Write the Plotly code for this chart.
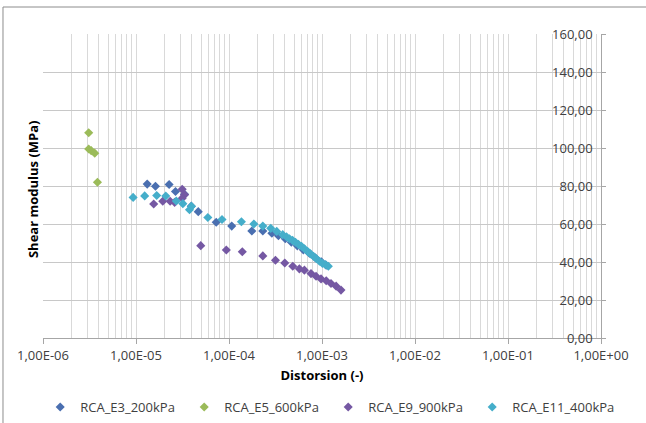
import plotly.graph_objects as go

# ---- data ----
series_names = ["RCA_E3_200kPa", "RCA_E5_600kPa", "RCA_E9_900kPa", "RCA_E11_400kPa"]

e3_x = [1.32e-5, 1.62e-5, 2.27e-5, 2.66e-5, 3.33e-5, 3.93e-5, 4.67e-5, 7.29e-5, 1.07e-4,
        1.76e-4, 2.31e-4, 2.89e-4, 3.40e-4, 4.03e-4, 4.68e-4, 5.43e-4, 6.30e-4, 7.31e-4,
        8.47e-4, 9.84e-4, 1.11e-3]
e3_y = [81.0, 79.9, 80.8, 77.1, 75.6, 69.4, 66.5, 60.9, 58.9,
        56.3, 56.3, 55.1, 53.8, 52.2, 50.4, 48.5, 46.4, 44.6,
        42.2, 40.1, 38.3]

e5_x = [3.1e-6, 3.1e-6, 3.3e-6, 3.6e-6, 3.85e-6]
e5_y = [108.0, 99.5, 98.6, 97.3, 82.0]

e9_x = [1.55e-5, 1.94e-5, 2.33e-5, 2.60e-5, 3.14e-5, 3.33e-5, 3.14e-5, 4.97e-5, 9.36e-5,
        1.39e-4, 2.31e-4, 3.16e-4, 3.98e-4, 4.85e-4, 5.71e-4, 6.47e-4, 7.62e-4, 8.63e-4,
        9.77e-4, 1.11e-3, 1.25e-3, 1.42e-3, 1.60e-3]
e9_y = [70.5, 72.0, 72.0, 71.4, 78.3, 75.4, 73.6, 48.6, 46.3,
        45.4, 43.2, 40.9, 39.5, 37.8, 36.4, 35.7, 33.9, 32.5,
        31.1, 30.1, 28.7, 27.3, 25.2]

e11_x = [9.31e-6, 1.24e-5, 1.67e-5, 2.09e-5, 2.71e-5, 3.19e-5, 3.76e-5, 3.95e-5, 5.92e-5,
         8.41e-5, 1.36e-4, 1.85e-4, 2.31e-4, 2.81e-4, 3.26e-4, 3.78e-4, 4.15e-4, 4.47e-4,
         4.82e-4, 5.19e-4, 5.58e-4, 6.02e-4, 6.48e-4, 6.98e-4, 7.52e-4, 8.10e-4, 8.72e-4,
         9.39e-4, 1.01e-3, 1.09e-3, 1.17e-3]
e11_y = [74.0, 74.8, 75.0, 74.7, 72.1, 70.7, 67.5, 69.3, 63.4,
         62.4, 61.2, 60.0, 58.9, 57.7, 56.1, 54.4, 53.3, 52.2,
         51.4, 50.4, 49.3, 48.3, 47.0, 45.6, 44.3, 43.0, 41.7,
         40.4, 39.3, 38.6, 37.8]

x_tickvals = [1e-6, 1e-5, 1e-4, 1e-3, 1e-2, 1e-1, 1e0]
x_ticktext = ["1,00E-06", "1,00E-05", "1,00E-04", "1,00E-03", "1,00E-02", "1,00E-01", "1,00E+00"]
y_tickvals = [0, 20, 40, 60, 80, 100, 120, 140, 160]
y_ticktext = ["0,00", "20,00", "40,00", "60,00", "80,00", "100,00", "120,00", "140,00", "160,00"]
x_minor = [m * 10 ** e for e in range(-6, 0) for m in range(2, 10)]

colors = ["#4A6FB0", "#9BBB59", "#7558A3", "#45AECA"]
xs = [e3_x, e5_x, e9_x, e11_x]
ys = [e3_y, e5_y, e9_y, e11_y]

FONT = "Open Sans"

fig = go.Figure()
for name, x, y, c in zip(series_names, xs, ys, colors):
    fig.add_trace(go.Scatter(x=x, y=y, mode="markers", name=name,
                             marker=dict(symbol="diamond", size=7, color=c, line=dict(width=0))))

fig.update_layout(
    width=646, height=423,
    margin=dict(l=43, r=45, t=34, b=85, autoexpand=False),
    paper_bgcolor="white", plot_bgcolor="white",
    font=dict(family=FONT, size=13, color="#404040"),
    showlegend=True,
    legend=dict(orientation="h", xref="paper", yref="paper",
                x=-0.005, xanchor="left", y=(338 - 407) / 304, yanchor="middle",
                font=dict(family=FONT, size=13, color="#404040"),
                itemwidth=30, tracegroupgap=0,
                entrywidth=99, entrywidthmode="pixels"),
    xaxis=dict(type="log", range=[-6, 0], tickvals=x_tickvals, ticktext=x_ticktext,
               showgrid=True, gridcolor="#d9d9d9", gridwidth=1,
               minor=dict(tickvals=x_minor, showgrid=True, gridcolor="#d9d9d9", ticks=""),
               showline=True, linecolor="#a6a6a6", linewidth=1,
               ticks="outside", ticklen=5, tickcolor="#a6a6a6",
               tickfont=dict(family=FONT, size=13, color="#404040"),
               title=dict(text="<b>Distorsion (-)</b>", font=dict(family=FONT, size=13, color="#000000"),
                          standoff=8),
               zeroline=False),
    yaxis=dict(range=[0, 160], tickvals=y_tickvals, ticktext=y_ticktext,
               side="right", ticklabelposition="inside", ticklabeloverflow="allow",
               ticklabelstandoff=8,
               showgrid=True, gridcolor="#c8c8c8", gridwidth=1,
               showline=True, linecolor="#a6a6a6", linewidth=1,
               ticks="outside", ticklen=4, tickcolor="#a6a6a6",
               tickfont=dict(family=FONT, size=13, color="#404040"),
               zeroline=False),
    annotations=[dict(text="<b>Shear modulus (MPa)</b>", xref="paper", yref="paper",
                      x=-0.0179, y=0.49, xanchor="center", yanchor="middle",
                      textangle=-90, showarrow=False,
                      font=dict(family=FONT, size=13, color="#000000"))],
    shapes=[
        dict(type="line", xref="paper", yref="paper", x0=-0.0717, x1=-0.0717, y0=-0.3, y1=1.0888,
             line=dict(color="#8c8c8c", width=1)),
        dict(type="line", xref="paper", yref="paper", x0=-0.0717, x1=1.2, y0=1.0888, y1=1.0888,
             line=dict(color="#8c8c8c", width=1)),
    ],
)

fig.write_html("out.html")
